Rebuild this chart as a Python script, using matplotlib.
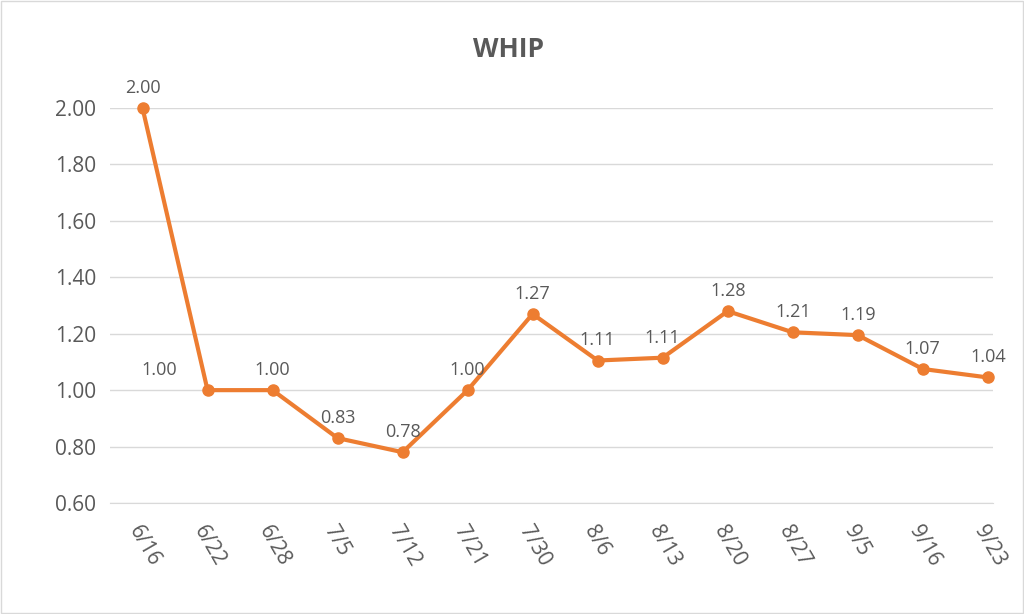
import matplotlib
matplotlib.use('Agg')
import matplotlib.pyplot as plt

dates = ['6/16', '6/22', '6/28', '7/5', '7/12', '7/21', '7/30', '8/6',
         '8/13', '8/20', '8/27', '9/5', '9/16', '9/23']
whip = [2.00, 1.00, 1.00, 0.83, 0.78, 1.00, 1.27, 1.105, 1.115, 1.28,
        1.205, 1.195, 1.075, 1.045]
labels = ['2.00', '1.00', '1.00', '0.83', '0.78', '1.00', '1.27', '1.11',
          '1.11', '1.28', '1.21', '1.19', '1.07', '1.04']
yticks = [0.6, 0.8, 1.0, 1.2, 1.4, 1.6, 1.8, 2.0]

ORANGE = '#ED7D31'
TXT = '#595959'
plt.rcParams['font.family'] = 'Open Sans'

fig = plt.figure(figsize=(10.24, 6.14), dpi=100)
fig.patches.append(plt.Rectangle((0.001, 0.001), 0.998, 0.998, transform=fig.transFigure,
                                 fill=False, edgecolor='#d9d9d9', linewidth=1))
ax = fig.add_axes([110 / 1024, 111 / 614, 883 / 1024, 395 / 614])

x = list(range(len(dates)))
ax.plot(x, whip, color=ORANGE, linewidth=3, marker='o', markersize=8, zorder=3,
        clip_on=False)

for i, (v, lab) in enumerate(zip(whip, labels)):
    dx = -35 if i == 1 else 0
    ax.annotate(lab, (i, v), xytext=(dx, 8), textcoords='offset points',
                ha='center', va='bottom', fontsize=13, color=TXT)

ax.set_xlim(-0.5, 13.08)
ax.set_ylim(0.6, 2.0)
ax.set_yticks(yticks)
ax.set_yticklabels([f'{t:.2f}' for t in yticks], fontsize=15, color=TXT)
ax.set_xticks(x)
ax.set_xticklabels(dates, fontsize=15, color=TXT, rotation=-60, ha='left',
                   rotation_mode='anchor')
ax.grid(axis='y', color='#d9d9d9', linewidth=1)
ax.set_axisbelow(True)
for s in ['top', 'right', 'left']:
    ax.spines[s].set_visible(False)
ax.spines['bottom'].set_color('#d9d9d9')
ax.tick_params(length=0, pad=10)
ax.tick_params(axis='x', pad=14)

fig.text(0.497, 0.92, 'WHIP', ha='center', va='center', fontsize=19,
         fontweight='bold', color=TXT)

fig.savefig('out.png', dpi=100)
